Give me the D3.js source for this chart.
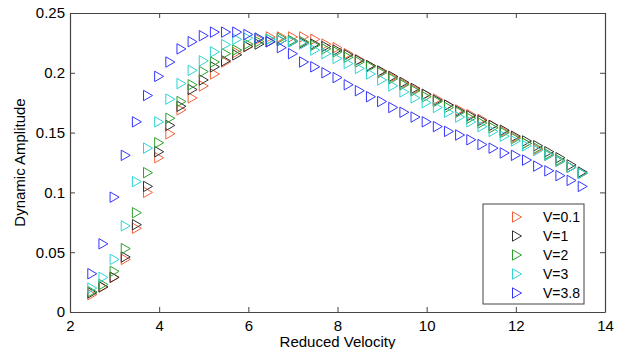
<!DOCTYPE html>
<html>
<head>
<meta charset="utf-8">
<script src="https://cdn.jsdelivr.net/npm/d3@7"></script>
<style>
  body { margin: 0; background: #fff; }
  text { font-family: "Liberation Sans", Arial, sans-serif; fill: #000; }
</style>
</head>
<body>
<div id="chart"></div>
<script>
// Reduced velocity: 2.5 .. 13.5 step 0.25
const velocity = [2.5, 2.75, 3, 3.25, 3.5, 3.75, 4, 4.25, 4.5, 4.75, 5, 5.25, 5.5, 5.75, 6, 6.25, 6.5, 6.75, 7, 7.25,
  7.5, 7.75, 8, 8.25, 8.5, 8.75, 9, 9.25, 9.5, 9.75, 10, 10.25, 10.5, 10.75, 11, 11.25, 11.5, 11.75, 12, 12.25,
  12.5, 12.75, 13, 13.25, 13.5];

const v01 = [0.0145, 0.021, 0.029, 0.044, 0.070, 0.100, 0.129, 0.149, 0.169, 0.179, 0.189, 0.199, 0.209, 0.217, 0.222,
  0.228, 0.230, 0.230, 0.230, 0.230, 0.228, 0.224, 0.221, 0.216, 0.211, 0.206, 0.201, 0.196, 0.191, 0.186,
  0.182, 0.178, 0.173, 0.169, 0.165, 0.161, 0.156, 0.151, 0.146, 0.141, 0.136, 0.131, 0.126, 0.121, 0.116];
const v1 = [0.016, 0.021, 0.029, 0.046, 0.073, 0.105, 0.134, 0.156, 0.172, 0.186, 0.194, 0.205, 0.210, 0.215, 0.222,
  0.224, 0.226, 0.227, 0.226, 0.225, 0.224, 0.222, 0.219, 0.215, 0.2105, 0.206, 0.2015, 0.197, 0.192, 0.187,
  0.182, 0.177, 0.173, 0.168, 0.164, 0.160, 0.156, 0.152, 0.147, 0.143, 0.139, 0.134, 0.129, 0.123, 0.117];
const v2 = [0.017, 0.023, 0.034, 0.053, 0.083, 0.1165, 0.1415, 0.162, 0.176, 0.190, 0.201, 0.209, 0.216, 0.219, 0.224,
  0.226, 0.228, 0.229, 0.227, 0.226, 0.223, 0.220, 0.2175, 0.213, 0.209, 0.205, 0.200, 0.195, 0.190, 0.185,
  0.180, 0.176, 0.171, 0.167, 0.162, 0.158, 0.154, 0.150, 0.145, 0.141, 0.137, 0.132, 0.127, 0.121, 0.116];
const v3 = [0.020, 0.029, 0.044, 0.072, 0.109, 0.137, 0.159, 0.178, 0.191, 0.202, 0.210, 0.2175, 0.2236, 0.228, 0.229,
  0.229, 0.228, 0.227, 0.226, 0.224, 0.219, 0.216, 0.212, 0.2077, 0.2036, 0.199, 0.194, 0.189, 0.184, 0.179,
  0.175, 0.171, 0.167, 0.163, 0.159, 0.155, 0.151, 0.147, 0.143, 0.139, 0.135, 0.131, 0.126, 0.121, 0.116];
const v38 = [0.032, 0.057, 0.096, 0.131, 0.159, 0.181, 0.197, 0.209, 0.220, 0.226, 0.231, 0.234, 0.234, 0.234, 0.232,
  0.229, 0.226, 0.221, 0.216, 0.209, 0.205, 0.200, 0.196, 0.190, 0.185, 0.180, 0.176, 0.171, 0.167, 0.163,
  0.159, 0.155, 0.151, 0.148, 0.144, 0.140, 0.137, 0.133, 0.131, 0.127, 0.122, 0.118, 0.114, 0.110, 0.105];

const seriesNames = ['V=0.1', 'V=1', 'V=2', 'V=3', 'V=3.8'];
const seriesValues = [v01, v1, v2, v3, v38];
const seriesColors = ['#f4603a', '#303030', '#2ea02e', '#2fd3d3', '#3434ff'];

const xTicks = [2, 4, 6, 8, 10, 12, 14];
const yTicks = [0, 0.05, 0.1, 0.15, 0.2, 0.25];
const yTickLabels = ['0', '0.05', '0.1', '0.15', '0.2', '0.25'];

const width = 619, height = 349;
const margin = { left: 70, right: 14, top: 13, bottom: 37 };
const innerW = width - margin.left - margin.right;
const innerH = height - margin.top - margin.bottom;

const svg = d3.select('#chart').append('svg')
  .attr('width', width)
  .attr('height', height);

const g = svg.append('g')
  .attr('transform', `translate(${margin.left},${margin.top})`);

const x = d3.scaleLinear().domain([2, 14]).range([0, innerW]);
const y = d3.scaleLinear().domain([0, 0.25]).range([innerH, 0]);

const axisColor = '#444';

// axes with inward ticks on all four sides (box)
const xBottom = g.append('g')
  .attr('transform', `translate(0,${innerH})`)
  .call(d3.axisBottom(x).tickValues(xTicks).tickSizeInner(-5).tickSizeOuter(0).tickPadding(8));
const xTop = g.append('g')
  .call(d3.axisTop(x).tickValues(xTicks).tickSizeInner(-5).tickSizeOuter(0).tickFormat(''));
const yLeft = g.append('g')
  .call(d3.axisLeft(y).tickValues(yTicks).tickSizeInner(-5).tickSizeOuter(0).tickPadding(5)
    .tickFormat((d, i) => yTickLabels[i]));
const yRight = g.append('g')
  .attr('transform', `translate(${innerW},0)`)
  .call(d3.axisRight(y).tickValues(yTicks).tickSizeInner(-5).tickSizeOuter(0).tickFormat(''));

[xBottom, xTop, yLeft, yRight].forEach(a => {
  a.select('.domain').attr('stroke', axisColor).attr('stroke-width', 1.2);
  a.selectAll('.tick line').attr('stroke', axisColor);
  a.selectAll('.tick text').style('font-size', '15px').attr('fill', '#000');
});

// triangle marker pointing right
const tri = 'M-4.5,-5.2L4.5,0L-4.5,5.2Z';

seriesValues.forEach((vals, si) => {
  g.append('g').selectAll('path')
    .data(vals)
    .join('path')
    .attr('d', tri)
    .attr('transform', (d, i) => `translate(${x(velocity[i])},${y(d)})`)
    .attr('fill', 'none')
    .attr('stroke', seriesColors[si])
    .attr('stroke-width', 1);
});

// axis labels
svg.append('text')
  .attr('x', margin.left + innerW / 2)
  .attr('y', 347)
  .attr('text-anchor', 'middle')
  .style('font-size', '15px')
  .text('Reduced Velocity');

svg.append('text')
  .attr('transform', `translate(25,${margin.top + innerH / 2}) rotate(-90)`)
  .attr('text-anchor', 'middle')
  .style('font-size', '15px')
  .text('Dynamic Amplitude');

// legend
const legend = svg.append('g').attr('transform', 'translate(483,204)');
legend.append('rect')
  .attr('width', 101).attr('height', 100)
  .attr('fill', '#fff').attr('stroke', axisColor).attr('stroke-width', 1);

seriesNames.forEach((name, i) => {
  const row = legend.append('g').attr('transform', `translate(0,${13 + i * 19})`);
  row.append('path')
    .attr('d', tri)
    .attr('transform', 'translate(34,0)')
    .attr('fill', 'none')
    .attr('stroke', seriesColors[i]);
  row.append('text')
    .attr('x', 60)
    .attr('y', 5)
    .style('font-size', '14px')
    .text(name);
});
</script>
</body>
</html>
